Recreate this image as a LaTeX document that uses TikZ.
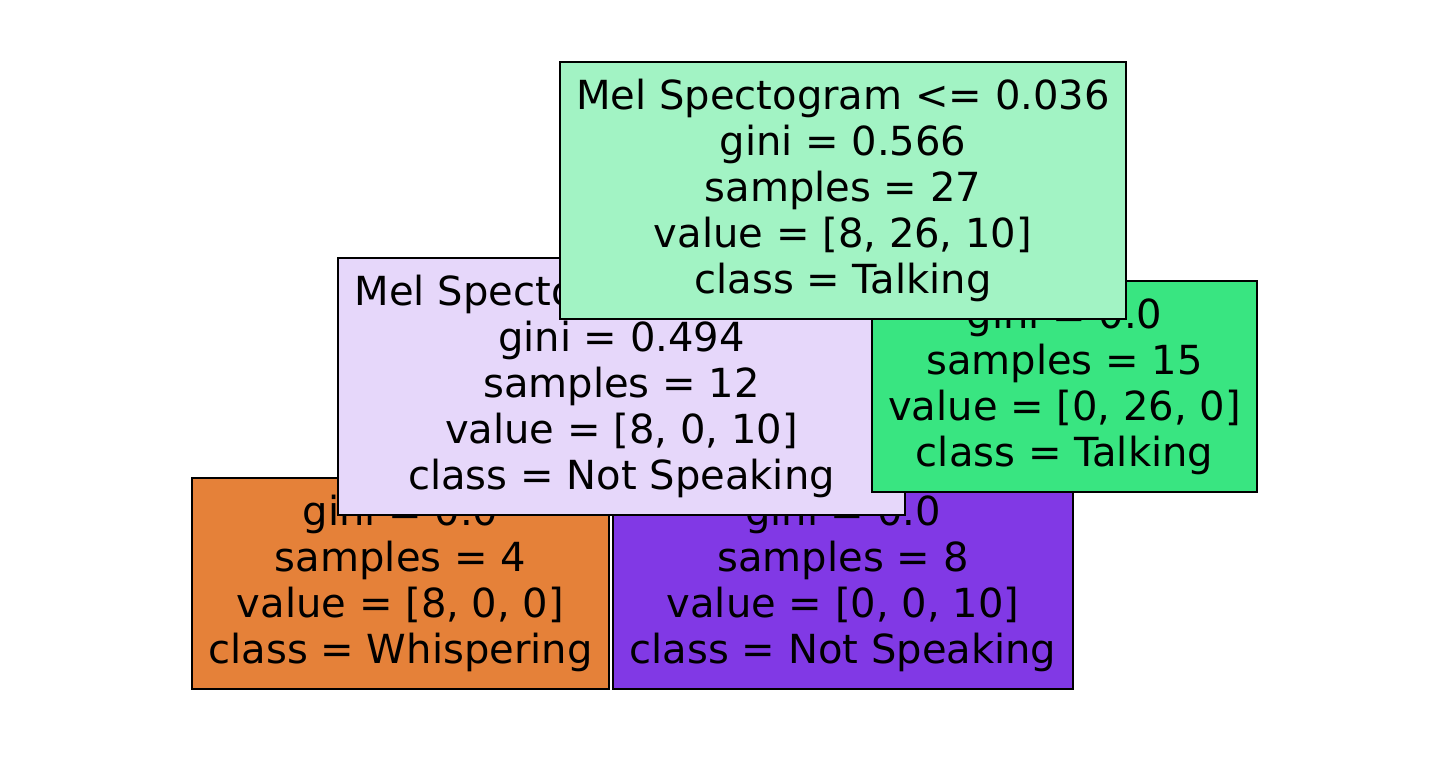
\documentclass[tikz,border=0pt]{standalone}
\usepackage{fontspec}
\setmainfont{DejaVu Sans}
\definecolor{cwhisp}{HTML}{E58139}
\definecolor{ctalk}{HTML}{39E581}
\definecolor{cnots}{HTML}{8139E5}
\definecolor{ctalklt}{HTML}{A2F3C4}
\definecolor{cnotslt}{HTML}{E6D7FA}

\begin{document}
\begin{tikzpicture}
\tikzstyle{split}=[draw=black,line width=0.6pt,rectangle,inner sep=0pt,align=center,minimum width=11.33cm,minimum height=5.14cm,font=\fontsize{22.8}{26.1}\selectfont];
\tikzstyle{leaf}=[split,minimum height=4.22cm];
\useasboundingbox (0,0) rectangle (28.58,15.32);
\node [leaf,fill=cwhisp,minimum width=8.34cm] (ll) at (8.01,3.65) {gini = 0.0\\samples = 4\\value = [8, 0, 0]\\class = Whispering};
\node [leaf,fill=cnots,minimum width=9.2cm] (lr) at (16.86,3.65) {gini = 0.0\\samples = 8\\value = [0, 0, 10]\\class = Not Speaking};
\node [split,fill=cnotslt,minimum width=11.34cm] (left) at (12.43,7.59) {Mel Spectogram\phantom{ <= 0.000}\\gini = 0.494\\samples = 12\\value = [8, 0, 10]\\class = Not Speaking};
\node [leaf,fill=ctalk,minimum width=7.7cm] (right) at (21.29,7.59) {gini = 0.0\\samples = 15\\value = [0, 26, 0]\\class = Talking};
\node [split,fill=ctalklt,minimum width=11.32cm] (root) at (16.86,11.51) {Mel Spectogram <= 0.036\\gini = 0.566\\samples = 27\\value = [8, 26, 10]\\class = Talking};
\end{tikzpicture}
\end{document}
